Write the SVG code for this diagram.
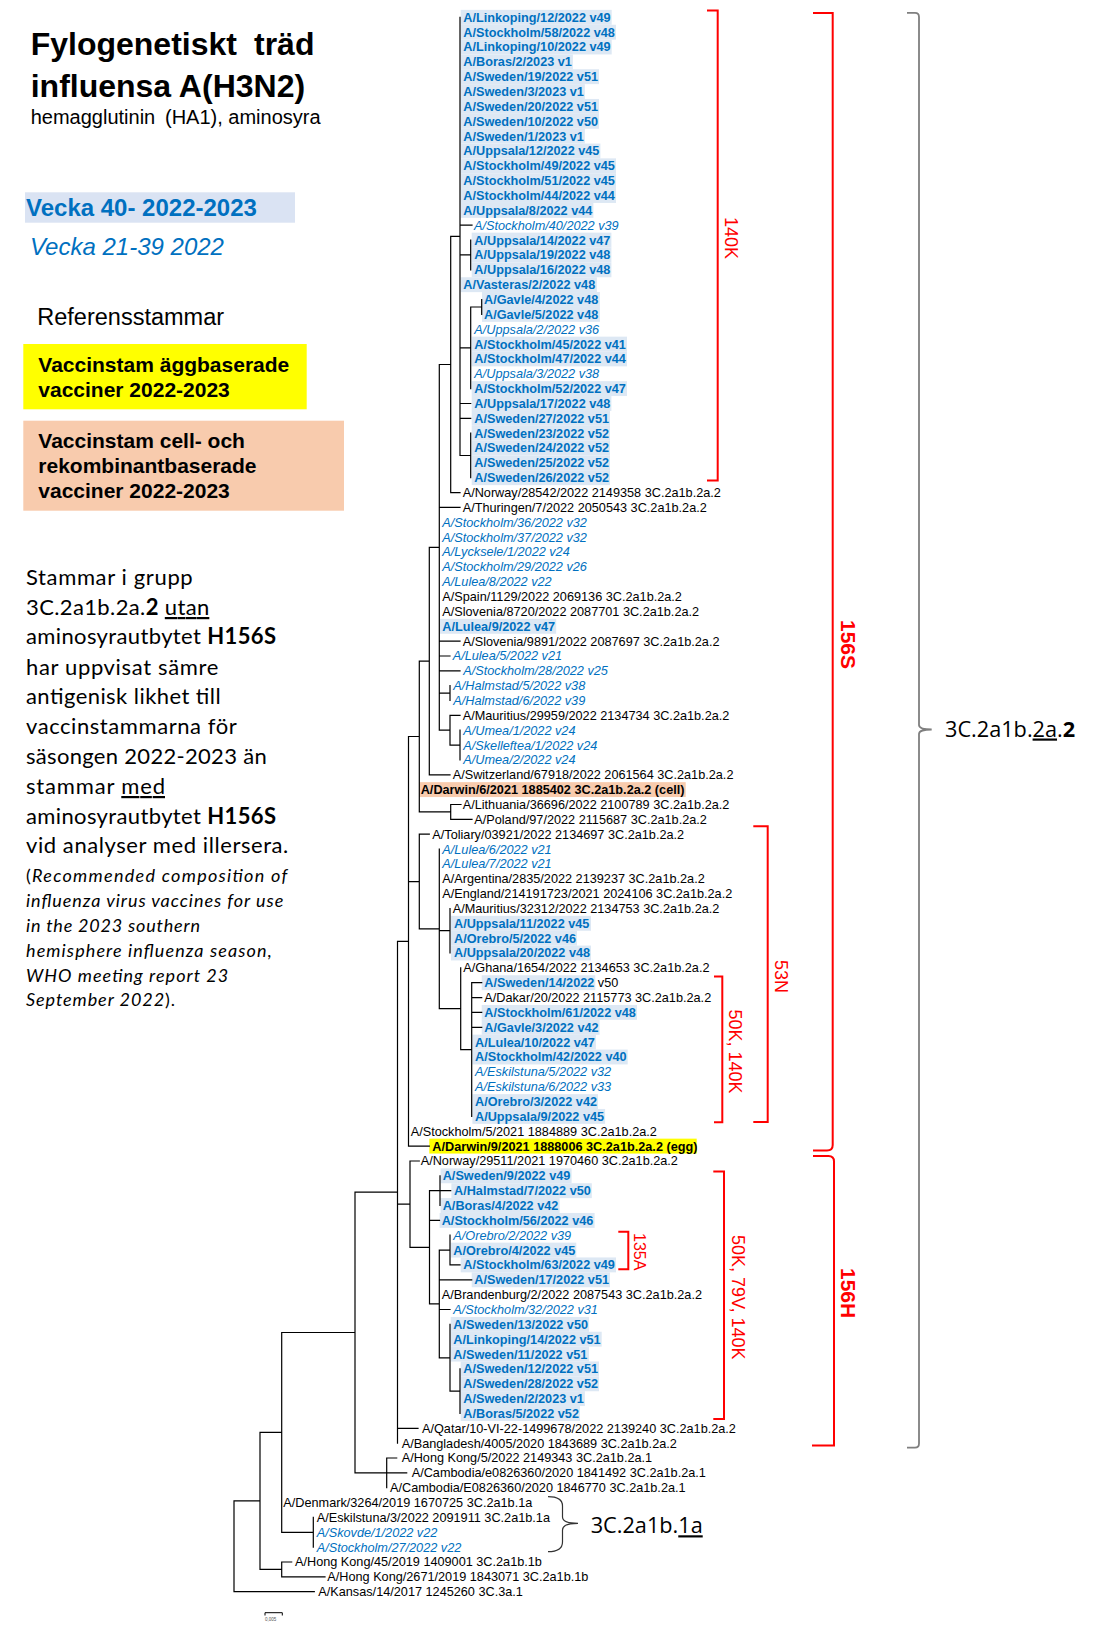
<svg xmlns="http://www.w3.org/2000/svg" width="1118" height="1630" viewBox="0 0 1118 1630">
<style>
.t{font-family:"Liberation Sans",Arial,sans-serif;font-size:12.7px;fill:#000}
.b{font-weight:bold;fill:#0070C0}
.i{font-style:italic;fill:#0070C0}
.k{font-weight:bold;fill:#000}
.hl{fill:#DDE8F4}
.br{fill:none;stroke:#FF0000;stroke-width:2}
.rl{font-family:"Liberation Sans",Arial,sans-serif;fill:#FF0000}
.tree{fill:none;stroke:#000;stroke-width:1.2;stroke-linecap:square}
.cal{font-family:Lato,"Open Sans",sans-serif;fill:#000}
.hd{font-family:"Liberation Sans",Arial,sans-serif;fill:#000}
.cl{font-family:"Open Sans","Noto Sans",sans-serif;font-size:21.7px;fill:#000}
</style>
<rect width="1118" height="1630" fill="#fff"/>

<g id="legend">
<text class="hd" x="30.7" y="55" font-size="32" font-weight="bold">Fylogenetiskt<tspan x="254">träd</tspan></text>
<text class="hd" x="30.7" y="96.7" font-size="32" font-weight="bold">influensa A(H3N2)</text>
<text class="hd" x="30.7" y="124" font-size="20">hemagglutinin<tspan x="165">(HA1), aminosyra</tspan></text>
<rect x="25" y="192.3" width="270" height="30.4" fill="#DAE3F3"/>
<text class="hd" x="26" y="216" font-size="24" font-weight="bold" fill="#0070C0" style="fill:#0070C0">Vecka 40- 2022-2023</text>
<text class="hd" x="30" y="255" font-size="24" font-style="italic" style="fill:#0070C0">Vecka 21-39 2022</text>
<text class="hd" x="37.3" y="325" font-size="23.5">Referensstammar</text>
<rect x="23.3" y="344" width="283.4" height="65.3" fill="#FFFF00"/>
<text class="hd" x="38.3" y="371.7" font-size="21" font-weight="bold">Vaccinstam äggbaserade</text>
<text class="hd" x="38.3" y="396.7" font-size="21" font-weight="bold">vacciner 2022-2023</text>
<rect x="23.3" y="420.7" width="320.7" height="90" fill="#F8CBAD"/>
<text class="hd" x="38.3" y="448.3" font-size="21" font-weight="bold">Vaccinstam cell- och</text>
<text class="hd" x="38.3" y="473.3" font-size="21" font-weight="bold">rekombinantbaserade</text>
<text class="hd" x="38.3" y="497.7" font-size="21" font-weight="bold">vacciner 2022-2023</text>
</g>

<g id="note" class="cal" font-size="22">
<text class="cal" x="26" y="585" textLength="166.7">Stammar i grupp</text>
<text class="cal" x="26" y="615" textLength="183.3">3C.2a1b.2a.<tspan font-weight="bold">2</tspan> <tspan text-decoration="underline">utan</tspan></text>
<text class="cal" x="26" y="644.3" textLength="250">aminosyrautbytet <tspan font-weight="bold">H156S</tspan></text>
<text class="cal" x="26" y="675" textLength="192.3">har uppvisat sämre</text>
<text class="cal" x="26" y="704.3" textLength="194.7">antigenisk likhet till</text>
<text class="cal" x="26" y="734" textLength="210.7">vaccinstammarna för</text>
<text class="cal" x="26" y="764" textLength="240.7">säsongen 2022-2023 än</text>
<text class="cal" x="26" y="794" textLength="139">stammar <tspan text-decoration="underline">med</tspan></text>
<text class="cal" x="26" y="824" textLength="250">aminosyrautbytet <tspan font-weight="bold">H156S</tspan></text>
<text class="cal" x="26" y="853.3" textLength="262.3">vid analyser med illersera.</text>
<text class="cal" x="26" y="882.3" font-size="18" textLength="261.3">(<tspan font-style="italic">Recommended composition of</tspan></text>
<text class="cal" x="26" y="907.3" font-size="18" font-style="italic" textLength="257.3">influenza virus vaccines for use</text>
<text class="cal" x="26" y="931.7" font-size="18" font-style="italic" textLength="174">in the 2023 southern</text>
<text class="cal" x="26" y="956.7" font-size="18" font-style="italic" textLength="245.7">hemisphere influenza season,</text>
<text class="cal" x="26" y="981.7" font-size="18" font-style="italic" textLength="202.3">WHO meeting report 23</text>
<text class="cal" x="26" y="1006" font-size="18" textLength="149"><tspan font-style="italic">September 2022</tspan>).</text>
</g>

<g id="nodes">
<g id="n1"><rect class="hl" x="460.7" y="9.85" width="151" height="14.9"/><text class="t b" x="463.3" y="21.7">A/Linkoping/12/2022 v49</text></g>
<g id="n2"><rect class="hl" x="460.7" y="24.75" width="155.3" height="14.9"/><text class="t b" x="463.3" y="36.6">A/Stockholm/58/2022 v48</text></g>
<g id="n3"><rect class="hl" x="460.7" y="39.55" width="151" height="14.9"/><text class="t b" x="463.3" y="51.4">A/Linkoping/10/2022 v49</text></g>
<g id="n4"><rect class="hl" x="460.7" y="54.45" width="112.2" height="14.9"/><text class="t b" x="463.3" y="66.3">A/Boras/2/2023 v1</text></g>
<g id="n5"><rect class="hl" x="460.7" y="69.25" width="138.3" height="14.9"/><text class="t b" x="463.3" y="81.1">A/Sweden/19/2022 v51</text></g>
<g id="n6"><rect class="hl" x="460.7" y="84.15" width="124.2" height="14.9"/><text class="t b" x="463.3" y="96">A/Sweden/3/2023 v1</text></g>
<g id="n7"><rect class="hl" x="460.7" y="98.95" width="138.3" height="14.9"/><text class="t b" x="463.3" y="110.8">A/Sweden/20/2022 v51</text></g>
<g id="n8"><rect class="hl" x="460.7" y="113.85" width="138.3" height="14.9"/><text class="t b" x="463.3" y="125.7">A/Sweden/10/2022 v50</text></g>
<g id="n9"><rect class="hl" x="460.7" y="128.65" width="124.2" height="14.9"/><text class="t b" x="463.3" y="140.5">A/Sweden/1/2023 v1</text></g>
<g id="n10"><rect class="hl" x="460.7" y="143.55" width="139.7" height="14.9"/><text class="t b" x="463.3" y="155.4">A/Uppsala/12/2022 v45</text></g>
<g id="n11"><rect class="hl" x="460.7" y="158.35" width="155.3" height="14.9"/><text class="t b" x="463.3" y="170.2">A/Stockholm/49/2022 v45</text></g>
<g id="n12"><rect class="hl" x="460.7" y="173.25" width="155.3" height="14.9"/><text class="t b" x="463.3" y="185.1">A/Stockholm/51/2022 v45</text></g>
<g id="n13"><rect class="hl" x="460.7" y="188.05" width="155.3" height="14.9"/><text class="t b" x="463.3" y="199.9">A/Stockholm/44/2022 v44</text></g>
<g id="n14"><rect class="hl" x="460.7" y="202.95" width="132.7" height="14.9"/><text class="t b" x="463.3" y="214.8">A/Uppsala/8/2022 v44</text></g>
<g id="n15"><text class="t i" x="474" y="229.6">A/Stockholm/40/2022 v39</text></g>
<g id="n16"><rect class="hl" x="471.7" y="232.65" width="139.7" height="14.9"/><text class="t b" x="474.3" y="244.5">A/Uppsala/14/2022 v47</text></g>
<g id="n17"><rect class="hl" x="471.7" y="247.45" width="139.7" height="14.9"/><text class="t b" x="474.3" y="259.3">A/Uppsala/19/2022 v48</text></g>
<g id="n18"><rect class="hl" x="471.7" y="262.35" width="139.7" height="14.9"/><text class="t b" x="474.3" y="274.2">A/Uppsala/16/2022 v48</text></g>
<g id="n19"><rect class="hl" x="460.7" y="277.25" width="136.2" height="14.9"/><text class="t b" x="463.3" y="289.1">A/Vasteras/2/2022 v48</text></g>
<g id="n20"><rect class="hl" x="482" y="292.05" width="117.9" height="14.9"/><text class="t b" x="484" y="303.9">A/Gavle/4/2022 v48</text></g>
<g id="n21"><rect class="hl" x="482" y="306.95" width="117.9" height="14.9"/><text class="t b" x="484" y="318.8">A/Gavle/5/2022 v48</text></g>
<g id="n22"><text class="t i" x="474.3" y="333.6">A/Uppsala/2/2022 v36</text></g>
<g id="n23"><rect class="hl" x="471.7" y="336.65" width="155.3" height="14.9"/><text class="t b" x="474.3" y="348.5">A/Stockholm/45/2022 v41</text></g>
<g id="n24"><rect class="hl" x="471.7" y="351.45" width="155.3" height="14.9"/><text class="t b" x="474.3" y="363.3">A/Stockholm/47/2022 v44</text></g>
<g id="n25"><text class="t i" x="474.3" y="378.2">A/Uppsala/3/2022 v38</text></g>
<g id="n26"><rect class="hl" x="471.7" y="381.15" width="155.3" height="14.9"/><text class="t b" x="474.3" y="393">A/Stockholm/52/2022 v47</text></g>
<g id="n27"><rect class="hl" x="471.7" y="396.05" width="139.7" height="14.9"/><text class="t b" x="474.3" y="407.9">A/Uppsala/17/2022 v48</text></g>
<g id="n28"><rect class="hl" x="471.7" y="410.85" width="138.3" height="14.9"/><text class="t b" x="474.3" y="422.7">A/Sweden/27/2022 v51</text></g>
<g id="n29"><rect class="hl" x="471.7" y="425.75" width="138.3" height="14.9"/><text class="t b" x="474.3" y="437.6">A/Sweden/23/2022 v52</text></g>
<g id="n30"><rect class="hl" x="471.7" y="440.55" width="138.3" height="14.9"/><text class="t b" x="474.3" y="452.4">A/Sweden/24/2022 v52</text></g>
<g id="n31"><rect class="hl" x="471.7" y="455.45" width="138.3" height="14.9"/><text class="t b" x="474.3" y="467.3">A/Sweden/25/2022 v52</text></g>
<g id="n32"><rect class="hl" x="471.7" y="470.25" width="138.3" height="14.9"/><text class="t b" x="474.3" y="482.1">A/Sweden/26/2022 v52</text></g>
<g id="n33"><text class="t" x="462.7" y="497">A/Norway/28542/2022 2149358 3C.2a1b.2a.2</text></g>
<g id="n34"><text class="t" x="462.7" y="511.8">A/Thuringen/7/2022 2050543 3C.2a1b.2a.2</text></g>
<g id="n35"><text class="t i" x="442.3" y="526.7">A/Stockholm/36/2022 v32</text></g>
<g id="n36"><text class="t i" x="442.3" y="541.6">A/Stockholm/37/2022 v32</text></g>
<g id="n37"><text class="t i" x="442.3" y="556.4">A/Lycksele/1/2022 v24</text></g>
<g id="n38"><text class="t i" x="442.3" y="571.3">A/Stockholm/29/2022 v26</text></g>
<g id="n39"><text class="t i" x="442.3" y="586.1">A/Lulea/8/2022 v22</text></g>
<g id="n40"><text class="t" x="442.3" y="601">A/Spain/1129/2022 2069136 3C.2a1b.2a.2</text></g>
<g id="n41"><text class="t" x="442.3" y="615.8">A/Slovenia/8720/2022 2087701 3C.2a1b.2a.2</text></g>
<g id="n42"><rect class="hl" x="440" y="618.85" width="116.2" height="14.9"/><text class="t b" x="442.3" y="630.7">A/Lulea/9/2022 v47</text></g>
<g id="n43"><text class="t" x="462.7" y="645.5">A/Slovenia/9891/2022 2087697 3C.2a1b.2a.2</text></g>
<g id="n44"><text class="t i" x="452.7" y="660.4">A/Lulea/5/2022 v21</text></g>
<g id="n45"><text class="t i" x="463.3" y="675.2">A/Stockholm/28/2022 v25</text></g>
<g id="n46"><text class="t i" x="453.3" y="690.1">A/Halmstad/5/2022 v38</text></g>
<g id="n47"><text class="t i" x="453.3" y="704.9">A/Halmstad/6/2022 v39</text></g>
<g id="n48"><text class="t" x="462.7" y="719.8">A/Mauritius/29959/2022 2134734 3C.2a1b.2a.2</text></g>
<g id="n49"><text class="t i" x="463.3" y="734.6">A/Umea/1/2022 v24</text></g>
<g id="n50"><text class="t i" x="463.3" y="749.5">A/Skelleftea/1/2022 v24</text></g>
<g id="n51"><text class="t i" x="463.3" y="764.3">A/Umea/2/2022 v24</text></g>
<g id="n52"><text class="t" x="452.7" y="779.2">A/Switzerland/67918/2022 2061564 3C.2a1b.2a.2</text></g>
<g id="n53"><rect x="419.3" y="782.15" width="266.4" height="14.9" fill="#F8CBAD"/><text class="t k" x="420.7" y="794">A/Darwin/6/2021 1885402 3C.2a1b.2a.2 (cell)</text></g>
<g id="n54"><text class="t" x="462.7" y="808.9">A/Lithuania/36696/2022 2100789 3C.2a1b.2a.2</text></g>
<g id="n55"><text class="t" x="474.3" y="823.8">A/Poland/97/2022 2115687 3C.2a1b.2a.2</text></g>
<g id="n56"><text class="t" x="432.3" y="838.6">A/Toliary/03921/2022 2134697 3C.2a1b.2a.2</text></g>
<g id="n57"><text class="t i" x="442.3" y="853.5">A/Lulea/6/2022 v21</text></g>
<g id="n58"><text class="t i" x="442.3" y="868.3">A/Lulea/7/2022 v21</text></g>
<g id="n59"><text class="t" x="442.3" y="883.2">A/Argentina/2835/2022 2139237 3C.2a1b.2a.2</text></g>
<g id="n60"><text class="t" x="442.3" y="898">A/England/214191723/2021 2024106 3C.2a1b.2a.2</text></g>
<g id="n61"><text class="t" x="452.7" y="912.9">A/Mauritius/32312/2022 2134753 3C.2a1b.2a.2</text></g>
<g id="n62"><rect class="hl" x="451" y="915.85" width="140" height="14.9"/><text class="t b" x="454" y="927.7">A/Uppsala/11/2022 v45</text></g>
<g id="n63"><rect class="hl" x="451" y="930.75" width="126" height="14.9"/><text class="t b" x="454" y="942.6">A/Orebro/5/2022 v46</text></g>
<g id="n64"><rect class="hl" x="451" y="945.55" width="140" height="14.9"/><text class="t b" x="454" y="957.4">A/Uppsala/20/2022 v48</text></g>
<g id="n65"><text class="t" x="463.3" y="972.3">A/Ghana/1654/2022 2134653 3C.2a1b.2a.2</text></g>
<g id="n66"><rect class="hl" x="481.7" y="975.25" width="113.6" height="14.9"/><text class="t" x="484.3" y="987.1"><tspan class="b">A/Sweden/14/2022</tspan> v50</text></g>
<g id="n67"><text class="t" x="484.3" y="1002">A/Dakar/20/2022 2115773 3C.2a1b.2a.2</text></g>
<g id="n68"><rect class="hl" x="481.7" y="1004.95" width="155.3" height="14.9"/><text class="t b" x="484.3" y="1016.8">A/Stockholm/61/2022 v48</text></g>
<g id="n69"><rect class="hl" x="481.7" y="1019.85" width="117.9" height="14.9"/><text class="t b" x="484.3" y="1031.7">A/Gavle/3/2022 v42</text></g>
<g id="n70"><rect class="hl" x="472.4" y="1034.65" width="123.5" height="14.9"/><text class="t b" x="475" y="1046.5">A/Lulea/10/2022 v47</text></g>
<g id="n71"><rect class="hl" x="472.4" y="1049.55" width="155.3" height="14.9"/><text class="t b" x="475" y="1061.4">A/Stockholm/42/2022 v40</text></g>
<g id="n72"><text class="t i" x="475" y="1076.3">A/Eskilstuna/5/2022 v32</text></g>
<g id="n73"><text class="t i" x="475" y="1091.1">A/Eskilstuna/6/2022 v33</text></g>
<g id="n74"><rect class="hl" x="472.4" y="1094.15" width="125.6" height="14.9"/><text class="t b" x="475" y="1106">A/Orebro/3/2022 v42</text></g>
<g id="n75"><rect class="hl" x="472.4" y="1108.95" width="132.7" height="14.9"/><text class="t b" x="475" y="1120.8">A/Uppsala/9/2022 v45</text></g>
<g id="n76"><text class="t" x="410.7" y="1135.7">A/Stockholm/5/2021 1884889 3C.2a1b.2a.2</text></g>
<g id="n77"><rect x="429.3" y="1138.65" width="267.4" height="14.9" fill="#FFFF00"/><text class="t k" x="432.3" y="1150.5">A/Darwin/9/2021 1888006 3C.2a1b.2a.2 (egg)</text></g>
<g id="n78"><text class="t" x="420.7" y="1165.4">A/Norway/29511/2021 1970460 3C.2a1b.2a.2</text></g>
<g id="n79"><rect class="hl" x="440.6" y="1168.35" width="131" height="14.9"/><text class="t b" x="442.7" y="1180.2">A/Sweden/9/2022 v49</text></g>
<g id="n80"><rect class="hl" x="451.4" y="1183.25" width="140.4" height="14.9"/><text class="t b" x="454" y="1195.1">A/Halmstad/7/2022 v50</text></g>
<g id="n81"><rect class="hl" x="440.6" y="1198.05" width="119" height="14.9"/><text class="t b" x="442.7" y="1209.9">A/Boras/4/2022 v42</text></g>
<g id="n82"><rect class="hl" x="439.6" y="1212.95" width="155" height="14.9"/><text class="t b" x="441.7" y="1224.8">A/Stockholm/56/2022 v46</text></g>
<g id="n83"><text class="t i" x="453.3" y="1239.6">A/Orebro/2/2022 v39</text></g>
<g id="n84"><rect class="hl" x="450.7" y="1242.65" width="125.6" height="14.9"/><text class="t b" x="453.3" y="1254.5">A/Orebro/4/2022 v45</text></g>
<g id="n85"><rect class="hl" x="460.7" y="1257.45" width="155.3" height="14.9"/><text class="t b" x="463.3" y="1269.3">A/Stockholm/63/2022 v49</text></g>
<g id="n86"><rect class="hl" x="471.7" y="1272.35" width="138.3" height="14.9"/><text class="t b" x="474.3" y="1284.2">A/Sweden/17/2022 v51</text></g>
<g id="n87"><text class="t" x="441.7" y="1299">A/Brandenburg/2/2022 2087543 3C.2a1b.2a.2</text></g>
<g id="n88"><text class="t i" x="453.3" y="1313.9">A/Stockholm/32/2022 v31</text></g>
<g id="n89"><rect class="hl" x="450.7" y="1316.95" width="138.3" height="14.9"/><text class="t b" x="453.3" y="1328.8">A/Sweden/13/2022 v50</text></g>
<g id="n90"><rect class="hl" x="450.7" y="1331.75" width="151" height="14.9"/><text class="t b" x="453.3" y="1343.6">A/Linkoping/14/2022 v51</text></g>
<g id="n91"><rect class="hl" x="450.7" y="1346.65" width="138.3" height="14.9"/><text class="t b" x="453.3" y="1358.5">A/Sweden/11/2022 v51</text></g>
<g id="n92"><rect class="hl" x="460.7" y="1361.45" width="138.3" height="14.9"/><text class="t b" x="463.3" y="1373.3">A/Sweden/12/2022 v51</text></g>
<g id="n93"><rect class="hl" x="460.7" y="1376.35" width="138.3" height="14.9"/><text class="t b" x="463.3" y="1388.2">A/Sweden/28/2022 v52</text></g>
<g id="n94"><rect class="hl" x="460.7" y="1391.15" width="124.2" height="14.9"/><text class="t b" x="463.3" y="1403">A/Sweden/2/2023 v1</text></g>
<g id="n95"><rect class="hl" x="460.7" y="1406.05" width="119.3" height="14.9"/><text class="t b" x="463.3" y="1417.9">A/Boras/5/2022 v52</text></g>
<g id="n96"><text class="t" x="422" y="1432.7">A/Qatar/10-VI-22-1499678/2022 2139240 3C.2a1b.2a.2</text></g>
<g id="n97"><text class="t" x="401.7" y="1447.6">A/Bangladesh/4005/2020 1843689 3C.2a1b.2a.2</text></g>
<g id="n98"><text class="t" x="401.7" y="1462.4">A/Hong Kong/5/2022 2149343 3C.2a1b.2a.1</text></g>
<g id="n99"><text class="t" x="411.7" y="1477.3">A/Cambodia/e0826360/2020 1841492 3C.2a1b.2a.1</text></g>
<g id="n100"><text class="t" x="390" y="1492.1">A/Cambodia/E0826360/2020 1846770 3C.2a1b.2a.1</text></g>
<g id="n101"><text class="t" x="283.3" y="1507">A/Denmark/3264/2019 1670725 3C.2a1b.1a</text></g>
<g id="n102"><text class="t" x="316.7" y="1521.8">A/Eskilstuna/3/2022 2091911 3C.2a1b.1a</text></g>
<g id="n103"><text class="t i" x="316.7" y="1536.7">A/Skovde/1/2022 v22</text></g>
<g id="n104"><text class="t i" x="316.7" y="1551.5">A/Stockholm/27/2022 v22</text></g>
<g id="n105"><text class="t" x="295" y="1566.4">A/Hong Kong/45/2019 1409001 3C.2a1b.1b</text></g>
<g id="n106"><text class="t" x="327.3" y="1581.2">A/Hong Kong/2671/2019 1843071 3C.2a1b.1b</text></g>
<g id="n107"><text class="t" x="318.3" y="1596.1">A/Kansas/14/2017 1245260 3C.3a.1</text></g>
</g>

<g id="connectors">
<path class="tree" d="M460,17.3V455.5 M460,225.2H472 M460,254.9H470.7 M470.7,240.1V269.8 M470.7,307H481.7 M481.7,299.5V314.4 M460,347.8H470.7 M470.7,307V388.6 M460,403.5H470.7 M460,418.3H470.7 M460,455.5H470.7 M470.7,433.2V477.7 M450.7,236.4H460 M450.7,236.4V492.6 M450.7,492.6H460 M439.3,364.5H450.7 M439.3,364.5V730.2 M439.3,507.4H460 M439.3,641.1H460 M439.3,656H450 M439.3,670.8H460 M439.3,693.1H450 M450,685.7V700.5 M439.3,730.2H450 M450,715.4V745.1 M450,715.4H460 M450,745.1H460 M460,730.2V759.9 M429.3,547.4H439.3 M429.3,547.4V774.8 M429.3,774.8H450 M419.3,661.1H429.3 M419.3,661.1V811.9 M419.3,811.9H450.7 M450.7,804.5V819.4 M450.7,804.5H461 M450.7,819.4H472 M408.5,736.5H419.3 M408.5,736.5V1146.1 M408.5,1146.1H429.3 M408.5,881.6H419.3 M419.3,834.2V928.9 M419.3,834.2H429.3 M419.3,928.9H439.3 M439.3,849.1V1008.7 M439.3,930.7H450 M450,908.5V953 M439.3,1008.7H460.7 M460.7,967.9V1049.6 M460.7,1049.6H471.7 M471.7,982.7V1116.4 M471.7,982.7H481.7 M471.7,997.6H481.7 M471.7,1012.4H481.7 M471.7,1027.3H481.7 M397.5,941.3H408.5 M397.5,941.3V1443.2 M397.5,1428.3H418 M397.5,1204.2H410 M410,1161V1247.3 M410,1161H419.3 M410,1247.3H429.5 M429.5,1190.7V1303.9 M429.5,1190.7H440 M440,1175.8V1205.5 M440,1190.7H450.7 M429.5,1220.4H439.5 M429.5,1303.9H439.3 M439.3,1250.1V1357.8 M439.3,1250.1H450 M450,1235.2V1264.9 M450,1264.9H460 M439.3,1279.8H471.7 M439.3,1309.5H450 M439.3,1357.8H450 M450,1324.4V1391.2 M450,1391.2H460 M460,1368.9V1413.5 M355,1192.2H397.5 M355,1192.2V1472.9 M355,1472.9H386.7 M386.7,1458V1487.7 M386.7,1458H396.7 M386.7,1472.9H406.7 M281.7,1332.5H355 M281.7,1332.5V1532.3 M281.7,1532.3H313.3 M313.3,1517.4V1547.1 M281.7,1562V1576.8 M281.7,1562H291.7 M281.7,1576.8H325 M260,1432.4H281.7 M260,1432.4V1569.4 M260,1569.4H281.7 M234,1500.9H260 M234,1500.9V1591.7 M234,1591.7H314.3"/>
</g>

<g id="scalebar">
<path d="M265,1612.7H282.3 M265,1612.7V1615.5 M282.3,1612.7V1615.5" fill="none" stroke="#000" stroke-width="1"/>
<text x="265" y="1621" font-family="Liberation Sans,Arial,sans-serif" font-size="4.5" fill="#555">0,005</text>
</g>

<g id="brackets">
<path class="br" d="M707,10.5H717.7V480.5H707"/>
<text class="rl" font-size="18" transform="translate(725,217) rotate(90)">140K</text>
<path class="br" d="M813,13H832.7V1145Q832.7,1150.5 827,1150.5H813"/>
<text class="rl" font-size="21" font-weight="bold" transform="translate(841,620) rotate(90)">156S</text>
<path class="br" d="M813,1156H828.5Q834,1156 834,1161.5V1445.6H812"/>
<text class="rl" font-size="21" font-weight="bold" transform="translate(841,1268) rotate(90)">156H</text>
<path class="br" d="M753.3,826.3H767.7V1122H753.3"/>
<text class="rl" font-size="18" transform="translate(775,960) rotate(90)">53N</text>
<path class="br" d="M714,976.6H722.3V1122.3H714"/>
<text class="rl" font-size="18" transform="translate(728.5,1009.5) rotate(90)">50K, 140K</text>
<path class="br" d="M713.3,1171.5H724V1419H713.3"/>
<text class="rl" font-size="18" transform="translate(732,1235) rotate(90)">50K, 79V, 140K</text>
<path class="br" d="M618.3,1231.7H628.3V1269.3H618.3"/>
<text class="rl" font-size="16" transform="translate(633.5,1233) rotate(90)">135A</text>
</g>

<g id="clades">
<path d="M907,12.8H915Q919,12.8 919,17V725Q919,729.5 931.7,729.5Q919,729.5 919,734V1443.5Q919,1447.7 915,1447.7H907" fill="none" stroke="#7F7F7F" stroke-width="1.8"/>
<text class="cl" x="945" y="736.5">3C.2a1b.<tspan text-decoration="underline">2a</tspan>.<tspan font-weight="bold">2</tspan></text>
<path d="M548,1496.7Q562.5,1496.7 562.5,1506V1517Q562.5,1523.3 578,1523.3Q562.5,1523.3 562.5,1530V1542Q562.5,1551.7 548,1551.7" fill="none" stroke="#333" stroke-width="1.2"/>
<text class="cl" x="590.7" y="1533.3">3C.2a1b.<tspan text-decoration="underline">1a</tspan></text>
</g>
</svg>
